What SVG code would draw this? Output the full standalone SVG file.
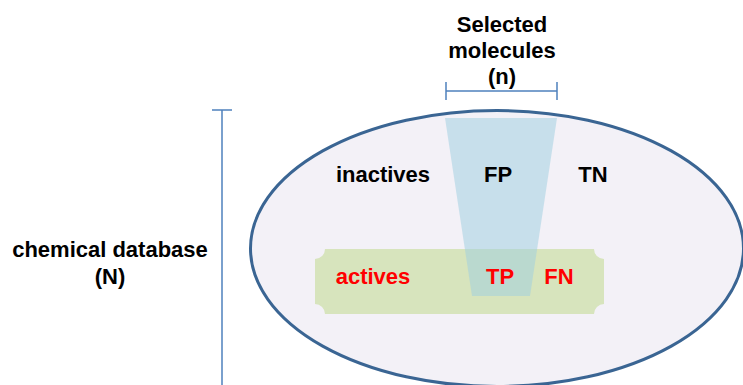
<svg xmlns="http://www.w3.org/2000/svg" width="743" height="385" viewBox="0 0 743 385">
<style>
text{font-family:"Liberation Sans",Arial,sans-serif;font-weight:bold;font-size:22px;text-anchor:middle}
.blk{fill:#000}
.red{fill:#ff0000}
.brk{stroke:#4f81bd;stroke-width:1.5;fill:none}
</style>
<rect width="743" height="385" fill="#ffffff"/>
<g id="database">
<ellipse cx="497" cy="248.5" rx="246.5" ry="138" fill="#f3f1f7" stroke="#3a6593" stroke-width="3"/>
</g>
<g id="actives-band">
<path d="M325,249 L594,249 A10,10 0 0 0 604,259 L604,304 A10,10 0 0 0 594,314 L325,314 A10,10 0 0 0 315,304 L315,259 A10,10 0 0 0 325,249 Z" fill="#d7e4bd"/>
</g>
<g id="selection">
<polygon points="445,118 557,118 530,296 472,296" fill="#9fd0e0" fill-opacity="0.52"/>
</g>
<g id="connectors">
<path class="brk" d="M446,91 L557,91 M446,82 L446,100 M557,82 L557,100"/>
<path class="brk" d="M222,110 L222,385 M212,110 L232,110"/>
</g>
<g id="labels">
<text class="blk" x="502" y="32">Selected</text>
<text class="blk" x="502" y="58">molecules</text>
<text class="blk" x="502" y="84">(n)</text>
<text class="blk" x="110" y="257">chemical database</text>
<text class="blk" x="110" y="284">(N)</text>
<text class="blk" x="383" y="182">inactives</text>
<text class="blk" x="498" y="182">FP</text>
<text class="blk" x="593" y="182">TN</text>
<text class="red" x="373" y="284">actives</text>
<text class="red" x="500" y="284">TP</text>
<text class="red" x="559" y="284">FN</text>
</g>
</svg>
